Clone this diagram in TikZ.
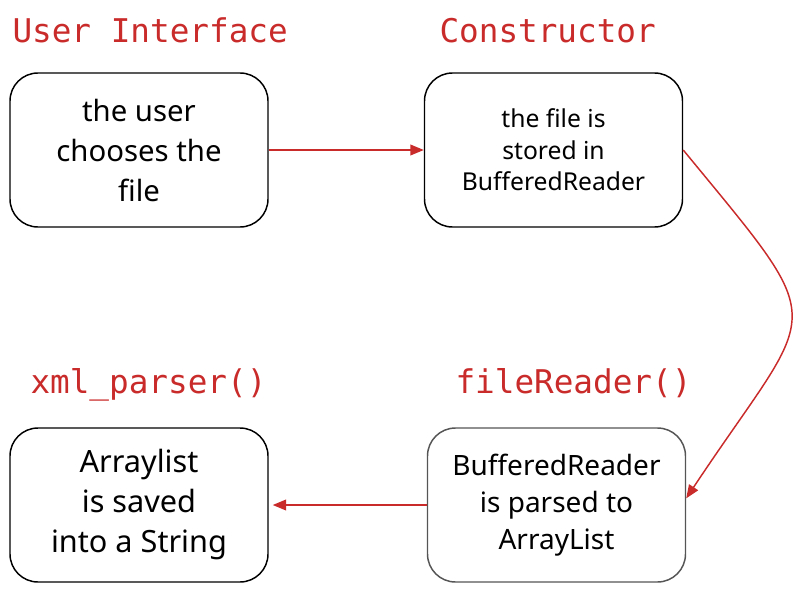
\documentclass[tikz,border=0pt]{standalone}
\usepackage{fontspec}
\setmainfont{Noto Sans}
\setmonofont{DejaVu Sans Mono}
\usetikzlibrary{arrows.meta}

\definecolor{flowred}{HTML}{C92A2A}
\definecolor{boxgray}{HTML}{555555}

\tikzset{every picture/.style={line width=0.75pt}}
\tikzset{
  stagebox/.style={draw, rounded corners=21pt, line width=1.1pt, minimum width=193.5pt, minimum height=115.5pt, align=center, inner sep=2pt},
  stagetitle/.style={anchor=base west, inner sep=0pt, text=flowred, font=\ttfamily\fontsize{24.5}{28}\selectfont},
  flowarrow/.style={draw=flowred, line width=1.1pt, -{Triangle[length=10pt,width=8pt]}}
}

\begin{document}
\begin{tikzpicture}[x=0.75pt,y=0.75pt,yscale=-1,xscale=1]
    \useasboundingbox (0,0) rectangle (803,592);

    %Rounded Rect
    \draw (139,150) node (ui) [stagebox, font=\fontsize{22}{30}\selectfont] {the user\\chooses the\\file};
    %Rounded Rect
    \draw (553.5,150) node (ctor) [stagebox, font=\fontsize{18.5}{23.5}\selectfont] {the file is\\stored in\\BufferedReader};
    %Rounded Rect
    \draw (556.5,505) node (reader) [stagebox, draw=boxgray, font=\fontsize{21}{27.5}\selectfont] {BufferedReader\\is parsed to\\ArrayList};
    %Rounded Rect
    \draw (139,505) node (parser) [stagebox, font=\fontsize{23}{30}\selectfont] {Arraylist\\is saved\\into a String};

    % Text Node
    \draw (12,43) node (uititle) [stagetitle] {User Interface};
    % Text Node
    \draw (439,43) node (ctortitle) [stagetitle] {Constructor};
    % Text Node
    \draw (30,393) node (parsertitle) [stagetitle] {xml\_parser()};
    % Text Node
    \draw (455,393) node (readertitle) [stagetitle] {fileReader()};

    %Straight Lines
    \draw [flowarrow] (ui.east) -- (ctor.west);
    %Curve Lines
    \draw [flowarrow] (ctor.east) .. controls +(152,185) and +(132,-199) .. ([yshift=-5pt]reader.east);
    %Straight Lines
    \draw [flowarrow, shorten >=3pt] (reader.west) -- (parser.east);

\end{tikzpicture}
\end{document}
